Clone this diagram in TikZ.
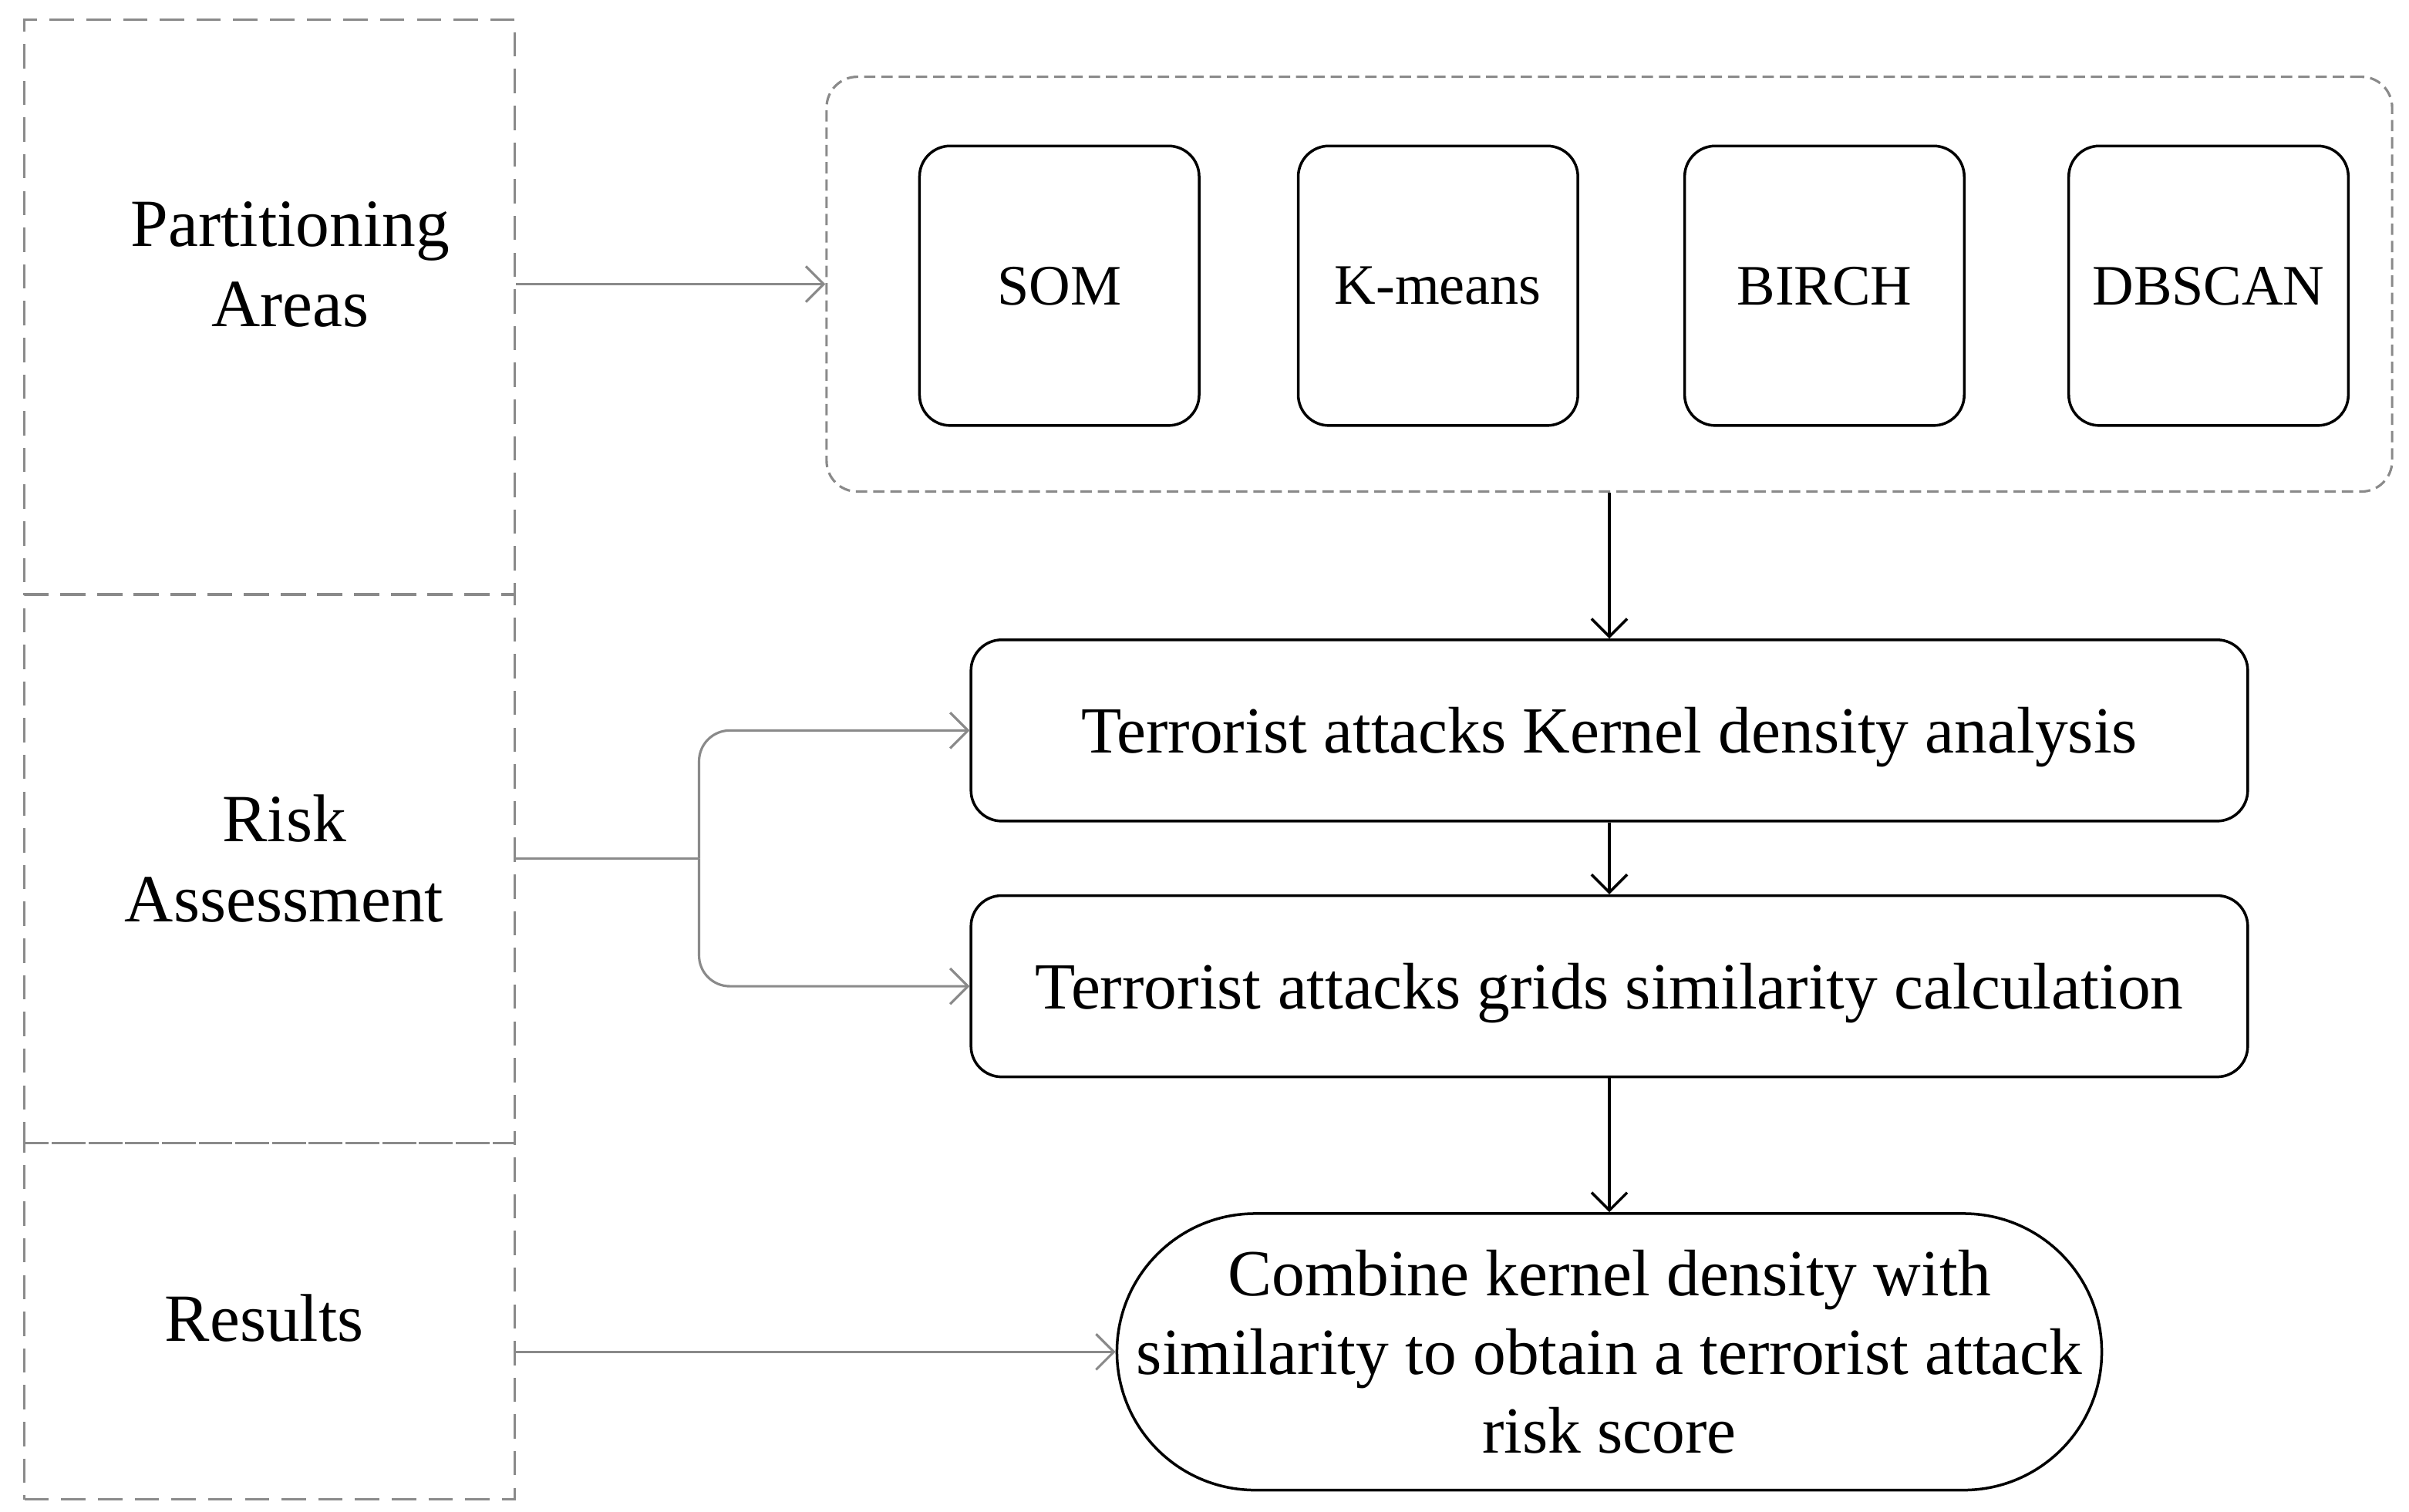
\documentclass[tikz,border=0pt]{standalone}
\usepackage{fontspec}
\setmainfont{Liberation Serif}
\usetikzlibrary{arrows.meta}
\definecolor{linegray}{RGB}{138,138,138}

\begin{document}
\begin{tikzpicture}[>={Straight Barb[length=3.3pt,width=6.6pt]},
  every node/.style={align=center,inner sep=0pt,font=\fontsize{12.2}{14.6}\selectfont},
  stage/.style={draw=linegray,line width=0.45pt,dash pattern=on 4.5pt off 2.3pt,minimum width=3.19cm},
  label/.style={font=\fontsize{12.5}{14.8}\selectfont},
  group/.style={draw=linegray,line width=0.45pt,dash pattern=on 2.1pt off 1.1pt,rounded corners=0.2cm},
  algo/.style={draw,line width=0.5pt,rounded corners=0.2cm,minimum width=1.82cm,minimum height=1.82cm,text depth=0pt,font=\fontsize{10.6}{12}\selectfont},
  proc/.style={draw,line width=0.5pt,rounded corners=0.2cm,minimum width=8.31cm,minimum height=1.18cm,text depth=0pt},
  garrow/.style={->,draw=linegray,line width=0.45pt}]
 \useasboundingbox (0,0) rectangle (15.68,9.84);

 % stages on the left
 \node[stage,minimum height=3.74cm] (pabox) at (1.755,7.84) {};
 \node[stage,minimum height=3.57cm] (rabox) at (1.755,4.185) {};
 \node[stage,minimum height=2.32cm] (resbox) at (1.755,1.24) {};
 \node[label] (pa) at (1.89,8.12) {Partitioning\\Areas};
 \node[label] (ra) at (1.85,4.25) {Risk\\Assessment};
 \node[label] (res) at (1.72,1.26) {Results};

 % clustering methods
 \node[group,minimum width=10.19cm,minimum height=2.70cm] (cluster) at (10.475,7.99) {};
 \node[algo] (som) at (6.895,7.98) {SOM};
 \node[algo] (kmeans) at (9.36,7.98) {K-means};
 \node[algo] (birch) at (11.875,7.98) {BIRCH};
 \node[algo] (dbscan) at (14.375,7.98) {DBSCAN};

 \node[proc] (kda) at (10.475,5.085) {Terrorist attacks Kernel density analysis};
 \node[proc] (grid) at (10.475,3.42) {Terrorist attacks grids similarity calculation};
 \node[draw,line width=0.5pt,rounded corners=0.9cm,minimum width=6.41cm,minimum height=1.80cm] (final) at (10.475,1.04)
   {Combine kernel density with\\similarity to obtain a terrorist attack\\risk score};

 \foreach \from/\to in {cluster/kda,kda/grid,grid/final}
 \draw [->,line width=0.5pt] (\from) -- (\to);

 \coordinate (split) at (4.55,4.25);
 \draw [garrow] (pabox.east |- cluster) -- (cluster.west);
 \draw [draw=linegray,line width=0.45pt] (rabox.east |- split) -- (split);
 \draw [garrow,rounded corners=0.2cm] (split) |- (kda.west);
 \draw [garrow,rounded corners=0.2cm] (split) |- (grid.west);
 \draw [garrow] (resbox.east |- final) -- (final.west);
\end{tikzpicture}
\end{document}
